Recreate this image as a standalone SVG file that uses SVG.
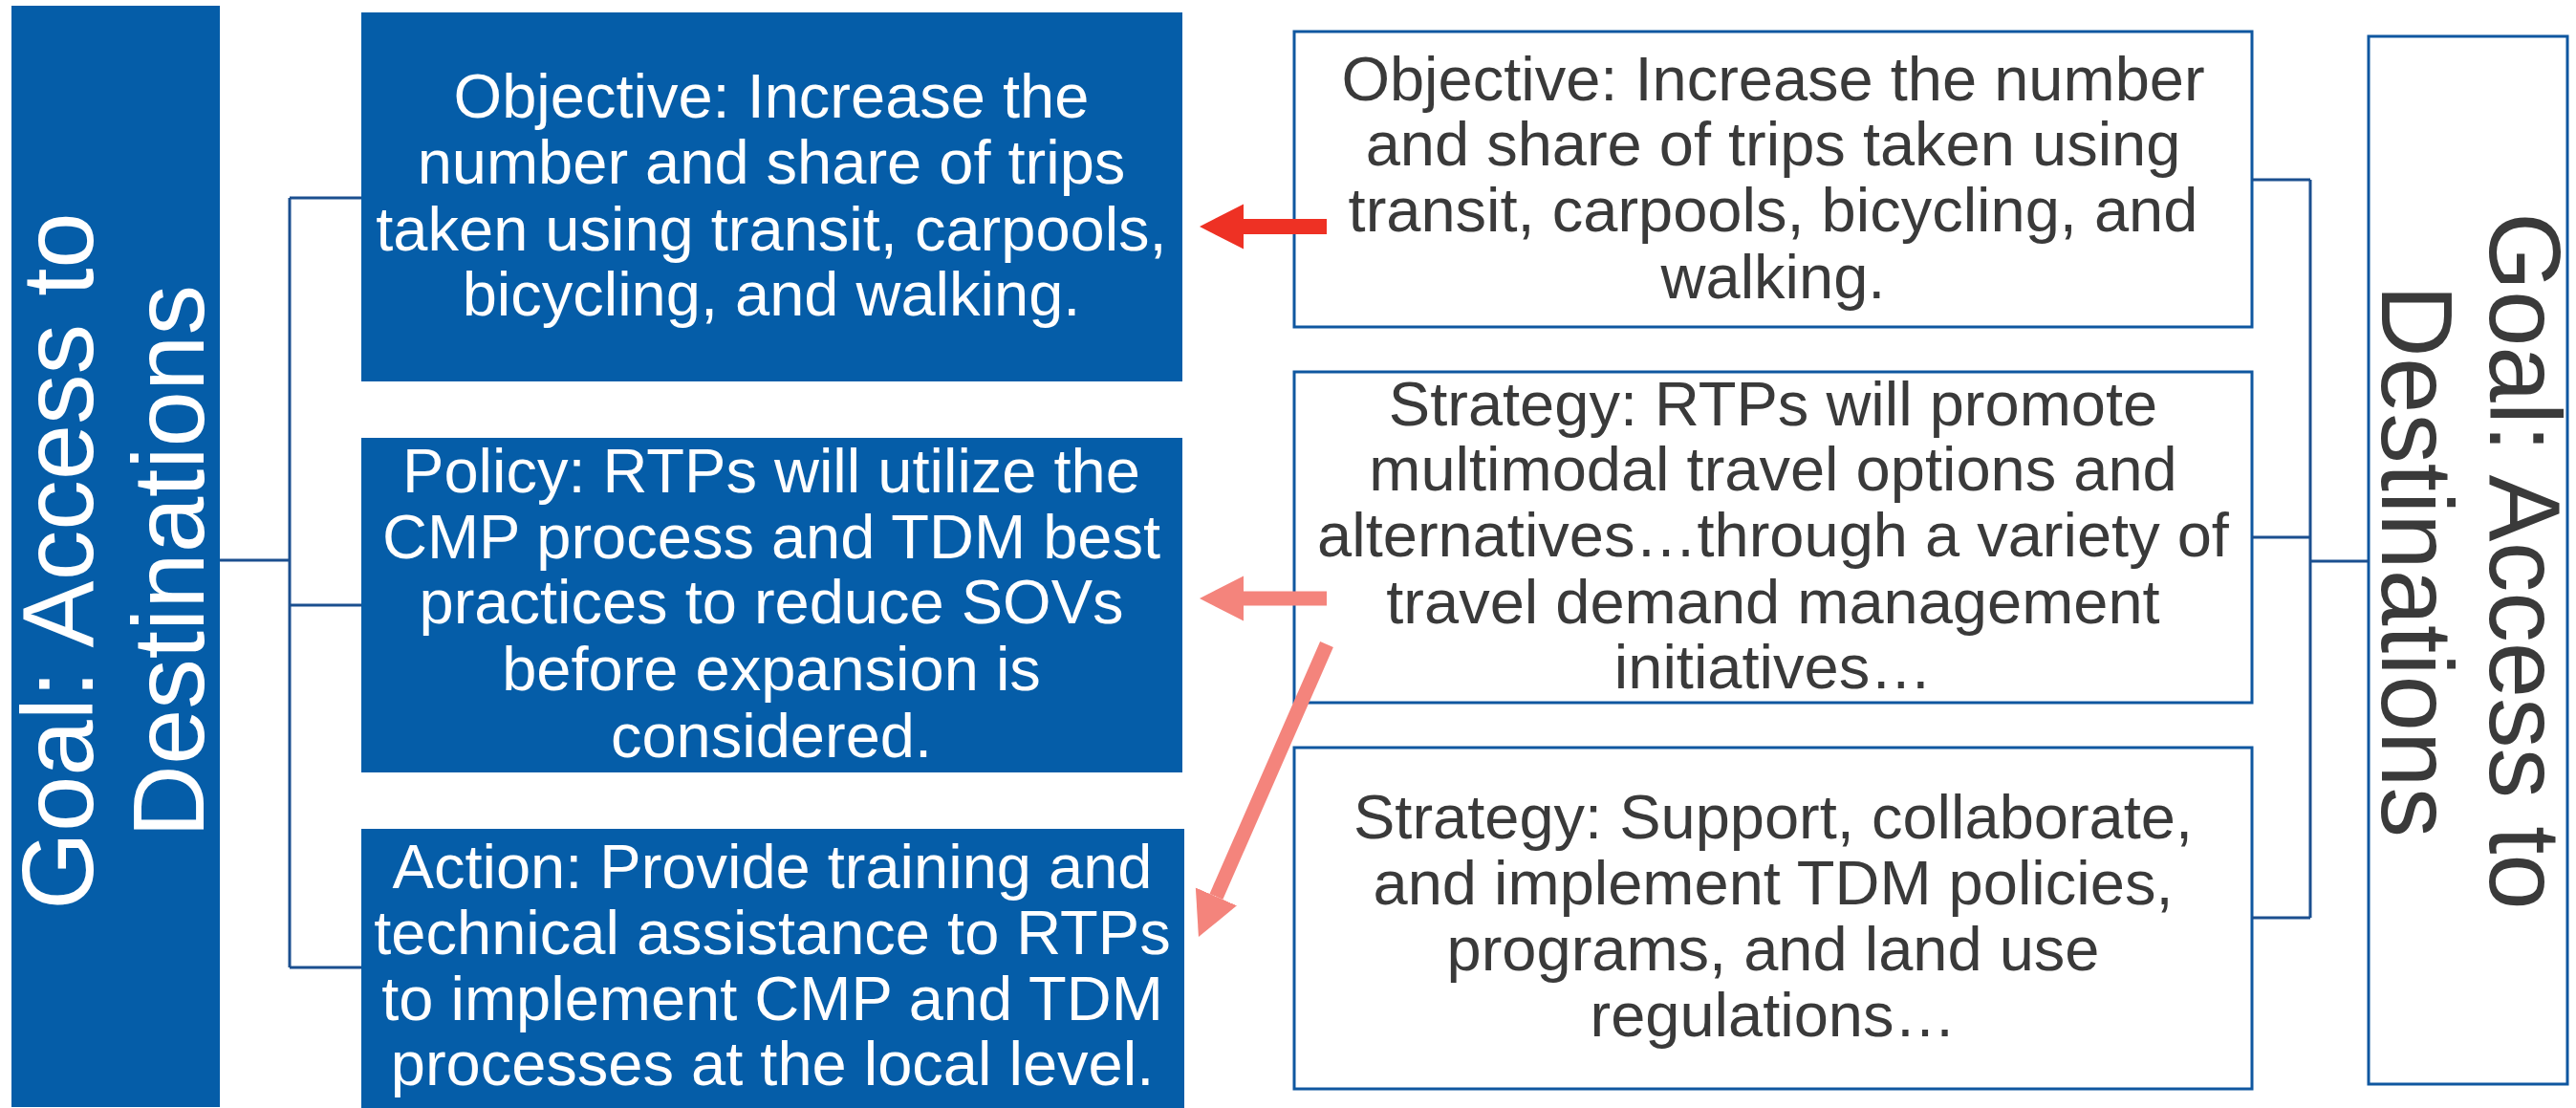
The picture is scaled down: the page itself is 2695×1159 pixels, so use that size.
<svg xmlns="http://www.w3.org/2000/svg" width="2695" height="1159" viewBox="0 0 2695 1159">
<style>
.solid{fill:#055DA8;}
.outline{fill:#FFFFFF;stroke:#0F57A0;stroke-width:3;}
.wt{font-family:"Liberation Sans",Arial,sans-serif;font-size:65px;fill:#FFFFFF;text-anchor:middle;}
.dt{font-family:"Liberation Sans",Arial,sans-serif;font-size:65px;fill:#3A3A3A;text-anchor:middle;}
.gw{font-family:"Liberation Sans",Arial,sans-serif;font-size:105px;fill:#FFFFFF;text-anchor:middle;}
.gd{font-family:"Liberation Sans",Arial,sans-serif;font-size:105px;fill:#3A3A3A;text-anchor:middle;}
.conn{fill:none;stroke:#1B4F8F;stroke-width:3;}
.red{fill:none;stroke:#EE3124;stroke-width:16;}
.pink{fill:none;stroke:#F4847C;stroke-width:15;}
</style>
<defs>
<marker id="headRed" viewBox="0 -24 46 48" markerWidth="46" markerHeight="48" refX="0" refY="0" markerUnits="userSpaceOnUse" orient="auto">
<path d="M0,-23.5 L46,0 L0,23.5 Z" fill="#EE3124"/>
</marker>
<marker id="headPink" viewBox="0 -24 46 48" markerWidth="46" markerHeight="48" refX="0" refY="0" markerUnits="userSpaceOnUse" orient="auto">
<path d="M0,-23.5 L46,0 L0,23.5 Z" fill="#F4847C"/>
</marker>
</defs>

<g id="goal-left">
<rect class="solid" x="12" y="6" width="218" height="1152"/>
<text class="gw" transform="translate(97,587) rotate(-90)"><tspan x="0" y="0">Goal: Access to</tspan><tspan x="0" y="116">Destinations</tspan></text>
</g>

<g id="objective-left">
<rect class="solid" x="378" y="13" width="859" height="386"/>
<text class="wt"><tspan x="807" y="123">Objective: Increase the</tspan><tspan x="807" y="192">number and share of trips</tspan><tspan x="807" y="262">taken using transit, carpools,</tspan><tspan x="807" y="330">bicycling, and walking.</tspan></text>
</g>

<g id="policy-left">
<rect class="solid" x="378" y="458" width="859" height="350"/>
<text class="wt"><tspan x="807" y="515">Policy: RTPs will utilize the</tspan><tspan x="807" y="584">CMP process and TDM best</tspan><tspan x="807" y="652">practices to reduce SOVs</tspan><tspan x="807" y="722">before expansion is</tspan><tspan x="807" y="792">considered.</tspan></text>
</g>

<g id="action-left">
<rect class="solid" x="378" y="867" width="861" height="295"/>
<text class="wt"><tspan x="808" y="929">Action: Provide training and</tspan><tspan x="808" y="998">technical assistance to RTPs</tspan><tspan x="808" y="1067">to implement CMP and TDM</tspan><tspan x="808" y="1135">processes at the local level.</tspan></text>
</g>

<g id="objective-right">
<rect class="outline" x="1354" y="33" width="1002" height="309"/>
<text class="dt"><tspan x="1855" y="105">Objective: Increase the number</tspan><tspan x="1855" y="173">and share of trips taken using</tspan><tspan x="1855" y="242">transit, carpools, bicycling, and</tspan><tspan x="1855" y="312">walking.</tspan></text>
</g>

<g id="strategy-right-1">
<rect class="outline" x="1354" y="389" width="1002" height="346"/>
<text class="dt"><tspan x="1855" y="445">Strategy: RTPs will promote</tspan><tspan x="1855" y="513">multimodal travel options and</tspan><tspan x="1855" y="582">alternatives…through a variety of</tspan><tspan x="1855" y="652">travel demand management</tspan><tspan x="1855" y="720">initiatives…</tspan></text>
</g>

<g id="strategy-right-2">
<rect class="outline" x="1354" y="782" width="1002" height="357"/>
<text class="dt"><tspan x="1855" y="877">Strategy: Support, collaborate,</tspan><tspan x="1855" y="946">and implement TDM policies,</tspan><tspan x="1855" y="1015">programs, and land use</tspan><tspan x="1855" y="1084">regulations…</tspan></text>
</g>

<g id="goal-right">
<rect class="outline" x="2478" y="38" width="208" height="1096"/>
<text class="gd" transform="translate(2605,587) rotate(90)"><tspan x="0" y="0">Goal: Access to</tspan><tspan x="0" y="113">Destinations</tspan></text>
</g>

<g id="connectors">
<path class="conn" d="M230,586 H303 M303,207 V1012 M303,207 H378 M303,633 H378 M303,1012 H378"/>
<path class="conn" d="M2356,188 H2417 M2356,562 H2417 M2356,960 H2417 M2417,188 V960 M2417,587 H2478"/>
<line class="red" x1="1388" y1="237" x2="1301" y2="237" marker-end="url(#headRed)"/>
<line class="pink" x1="1388" y1="626" x2="1301" y2="626" marker-end="url(#headPink)"/>
<line class="pink" x1="1388" y1="674" x2="1272.4" y2="937.9" marker-end="url(#headPink)"/>
</g>
</svg>
